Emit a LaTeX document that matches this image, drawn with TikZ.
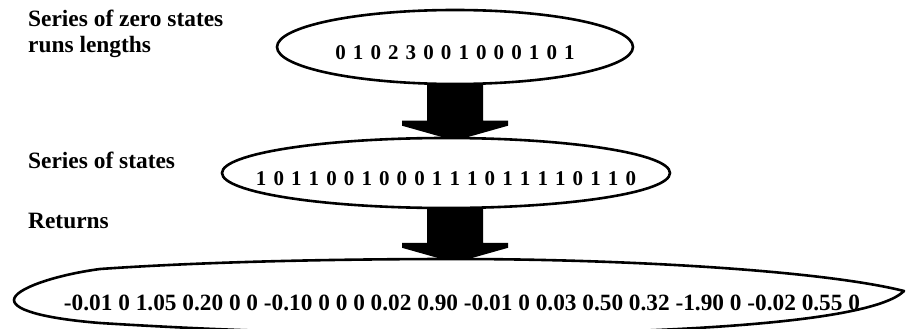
\documentclass[tikz,border=0pt]{standalone}
\usepackage{fontspec}
\setmainfont{Liberation Serif}
\usetikzlibrary{shapes.geometric,calc,backgrounds}

% Fat block arrow running from the bottom of one oval into the top of the next
\newcommand\blockarrow[2]{%
  \fill let \p1=(#1.south), \p2=(#2.north), \p0=(e1.center) in
    (\x0-28pt,\y1+3pt) -- (\x0+28pt,\y1+3pt) -- (\x0+28pt,\y2+16pt)
    -- (\x0+53pt,\y2+16pt) -- (\x0+53pt,\y2+11pt) -- (\x0,\y2-4pt)
    -- (\x0-53pt,\y2+11pt) -- (\x0-53pt,\y2+16pt) -- (\x0-28pt,\y2+16pt)
    -- cycle;}

\begin{document}
\begin{tikzpicture}[x=1pt,y=-1pt,
  oval/.style={ellipse, draw, line width=2.6pt, fill=white, inner sep=0pt},
  rim/.style={draw, line width=2.6pt, fill=white, line join=round},
  tag/.style={anchor=base west, inner sep=0pt,
    font=\fontsize{23.4}{27}\selectfont\bfseries},
  seq/.style={anchor=base, inner sep=0pt,
    font=\fontsize{21}{25}\selectfont\bfseries},
  nums/.style={anchor=base, inner sep=0pt,
    font=\fontsize{23.3}{27}\selectfont\bfseries}]
\useasboundingbox (0,0) rectangle (906,329);

% captions on the left
\node[tag] (l1) at (28,27) {Series of zero states};
\node[tag] (l2) at (28,53) {runs lengths};
\node[tag] (l3) at (28,168) {Series of states};
\node[tag] (l4) at (28,228) {Returns};

% the two upper ovals
\node[oval, minimum width=356pt, minimum height=74pt] (e1) at (455,47) {};
\node[oval, minimum width=448pt, minimum height=70pt] (e2) at (446,173) {};

% the long hand-drawn oval of returns: a frame node plus its outline
\node[inner sep=0pt, minimum width=892pt, minimum height=70pt] (e3) at (458,294) {};
\path[rim] (14,300)
  .. controls (14,289) and (55,275) .. (100,269)
  .. controls (200,262) and (330,259) .. (455,259)
  .. controls (620,259) and (820,270) .. (904,291)
  .. controls (868,327) and (620,334) .. (455,334)
  .. controls (300,334) and (180,328) .. (100,323)
  .. controls (50,319) and (14,311) .. (14,300) -- cycle;

% contents of the ovals
\node[seq] (t1) at ([yshift=-13pt]e1.center)
  {\spaceskip=7.1pt\relax 0 1 0 2 3 0 0 1 0 0 0 1 0 1};
\node[seq] (t2) at ([yshift=-12pt]e2.center)
  {\spaceskip=7.1pt\relax 1 0 1 1 0 0 1 0 0 0 1 1 1 0 1 1 1 1 0 1 1 0};
\node[nums] (t3) at ([xshift=4pt,yshift=-16pt]e3.center)
  {-0.01 0 1.05 0.20 0 0 -0.10 0 0 0 0.02 0.90 -0.01 0 0.03 0.50 0.32 -1.90 0 -0.02 0.55 0};

% block arrows behind the ovals
\begin{pgfonlayer}{background}
  \blockarrow{e1}{e2}
  \blockarrow{e2}{e3}
\end{pgfonlayer}
\end{tikzpicture}
\end{document}
